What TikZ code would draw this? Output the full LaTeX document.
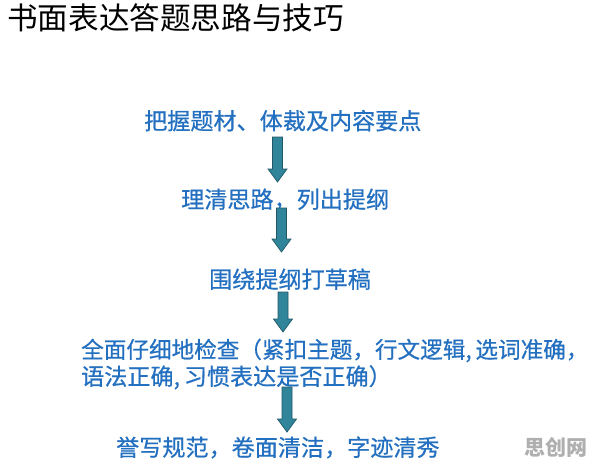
\documentclass[tikz,border=0pt]{standalone}
\usepackage{fontspec}
\newfontfamily\cjk{Noto Sans CJK SC}
\newfontfamily\cjkb[FakeBold=0.6]{Noto Sans CJK SC}
\usetikzlibrary{calc}
\definecolor{txtblue}{RGB}{36,112,192}
\definecolor{arrowfill}{RGB}{49,133,155}
\definecolor{arrowedge}{RGB}{32,88,103}
\definecolor{wmgray}{RGB}{175,175,175}
\tikzset{
  steptext/.style={anchor=base west, inner sep=0pt, text=txtblue, font=\cjkb\fontsize{23.1}{27}\selectfont},
  titletext/.style={anchor=base west, inner sep=0pt, text=black, font=\cjk\fontsize{30.6}{36}\selectfont},
  fatarrow/.style={draw=arrowedge, fill=arrowfill, line width=0.7pt, line join=miter,
    to path={let \p1=(\tikztostart), \p2=(\tikztotarget) in
      (\x1-5pt,\y1) -- (\x1+5pt,\y1) -- (\x2+5pt,\y2+13pt) -- (\x2+9.5pt,\y2+13pt)
      -- (\x2,\y2) -- (\x2-9.5pt,\y2+13pt) -- (\x2-5pt,\y2+13pt) -- cycle}}
}
\begin{document}
\begin{tikzpicture}[x=1pt,y=-1pt]
\useasboundingbox[fill=white] (0,0) rectangle (596,466);
\node[titletext] (title) at (7,29.5) {书面表达答题思路与技巧};
\node[steptext] (l1) at (144,129.5) {把握题材、体裁及内容要点};
\node[steptext] (l2) at (181,208) {理清思路，列出提纲};
\node[steptext] (l3) at (209,288) {围绕提纲打草稿};
\node[steptext, font=\cjkb\fontsize{22.6}{27}\selectfont] (l4) at (81,358) {全面仔细地检查（紧扣主题，行文逻辑,\,选词准确，};
\node[steptext] (l5) at (81,385) {语法正确,\,习惯表达是否正确）};
\node[steptext] (l6) at (116,456) {誉写规范，卷面清洁，字迹清秀};
\node[anchor=base west, inner sep=0pt, text=wmgray, font=\cjk\bfseries\fontsize{21}{25}\selectfont] (wm) at (524,455) {思创网};
\coordinate (a1s) at (277.5,137);
\coordinate (a1e) at (277.5,182);
\coordinate (a2s) at (281.5,208);
\coordinate (a2e) at (281.5,252);
\coordinate (a3s) at (283,292);
\coordinate (a3e) at (283,332);
\coordinate (a4s) at (287,387);
\coordinate (a4e) at (287,432);
\path[fatarrow] (a1s) to (a1e);
\path[fatarrow] (a2s) to (a2e);
\path[fatarrow] (a3s) to (a3e);
\path[fatarrow] (a4s) to (a4e);
\end{tikzpicture}
\end{document}
